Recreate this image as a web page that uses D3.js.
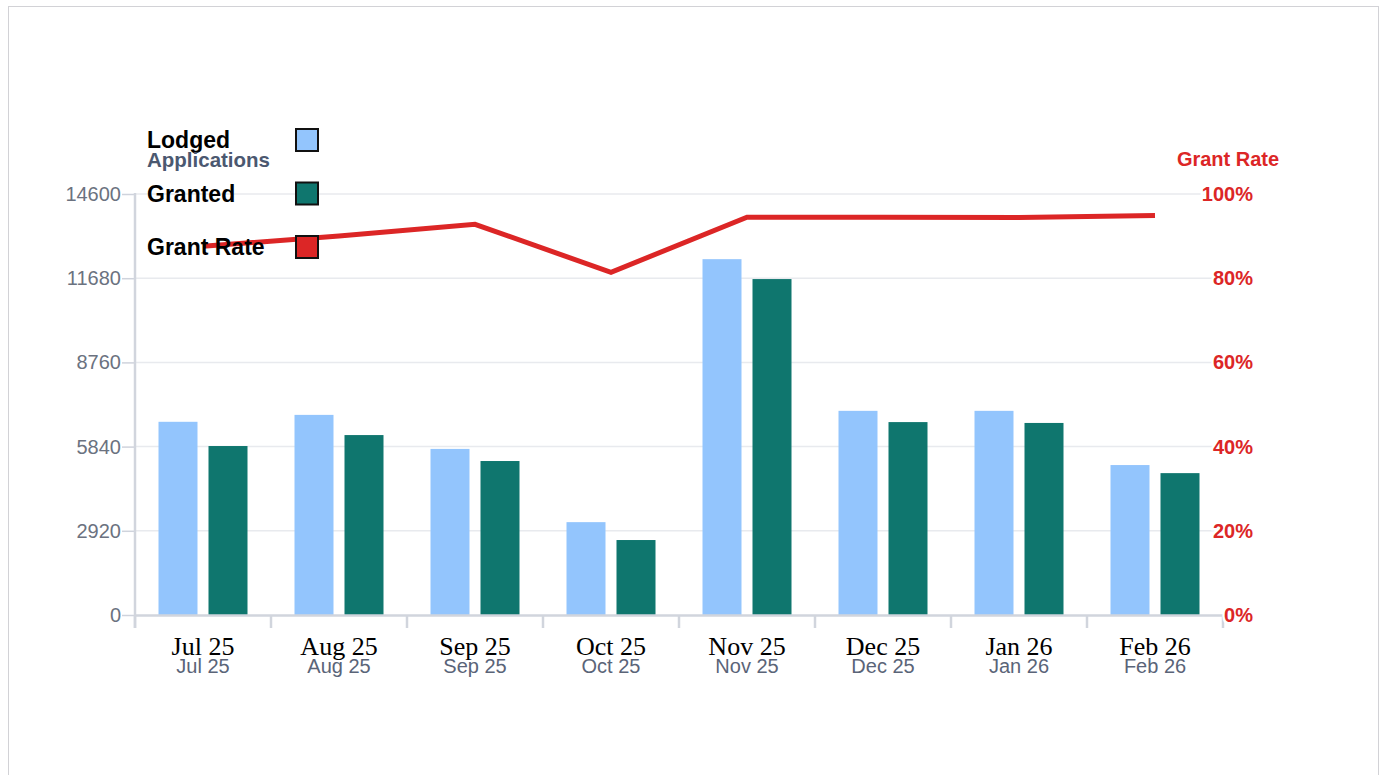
<!DOCTYPE html>
<html>
<head>
<meta charset="utf-8">
<script src="https://cdn.jsdelivr.net/npm/d3@7"></script>
<style>
  body { margin: 0; background: #fff; }
  .card { position: absolute; left: 8px; top: 6px; width: 1369px; height: 800px; border: 1px solid #d2d2d6; }
  svg { position: absolute; left: 0; top: 0; }
</style>
</head>
<body>
<div class="card"></div>
<svg id="chart"></svg>
<script>
// data
var months = ["Jul 25", "Aug 25", "Sep 25", "Oct 25", "Nov 25", "Dec 25", "Jan 26", "Feb 26"];
var lodged = [6700, 6940, 5760, 3220, 12340, 7080, 7080, 5200];
var granted = [5860, 6240, 5340, 2600, 11650, 6690, 6660, 4920];
var grantRate = [87.6, 90.0, 92.8, 81.4, 94.5, 94.5, 94.4, 94.9];
var leftTicks = [0, 2920, 5840, 8760, 11680, 14600];
var rightTicks = [0, 20, 40, 60, 80, 100];
var keys = ["Lodged", "Granted"];
var colors = { Lodged: "#93c5fd", Granted: "#0f766e", Rate: "#dc2626" };

function chart(idname, {
  width = 1387,
  height = 775,
  left = 135,   // x of the left axis
  right = 1223, // end of the x axis
  top = 194,    // y of the top tick
  bottom = 615  // y of the zero line
} = {}) {
  var svg = d3.select(`#${idname}`)
    .attr("width", width)
    .attr("height", height)
    .style("font-family", "Arial, 'Liberation Sans', sans-serif");

  // scales
  var x0 = d3.scaleBand().domain(months).range([left, right]);
  var x1 = d3.scaleBand().domain(keys).range([0, x0.bandwidth()])
    .paddingInner(0.22).paddingOuter(0.47);
  var y = d3.scaleLinear().domain([0, 14600]).range([bottom, top]);
  var yR = d3.scaleLinear().domain([0, 100]).range([bottom, top]);

  // gridlines
  svg.append("g")
    .selectAll("line")
    .data(leftTicks.slice(1))
    .enter()
    .append("line")
    .attr("x1", left)
    .attr("x2", 1253)
    .attr("y1", (d) => y(d))
    .attr("y2", (d) => y(d))
    .attr("stroke", "#e8eaee")
    .attr("stroke-width", 1.5);

  // bars
  var groups = svg.append("g")
    .selectAll("g")
    .data(months)
    .enter()
    .append("g")
    .attr("transform", (d) => `translate(${x0(d)},0)`);
  groups.selectAll("rect")
    .data((d, i) => [{ k: "Lodged", v: lodged[i] }, { k: "Granted", v: granted[i] }])
    .enter()
    .append("rect")
    .attr("x", (d) => x1(d.k))
    .attr("width", x1.bandwidth())
    .attr("y", (d) => y(d.v))
    .attr("height", (d) => y(0) - y(d.v))
    .attr("fill", (d) => colors[d.k]);

  // left axis
  var yAxis = d3.axisLeft(y).tickValues(leftTicks).tickFormat(d3.format("d")).tickSize(13).tickPadding(1);
  svg.append("g")
    .attr("transform", `translate(${left},0)`)
    .call(yAxis)
    .call((g) => g.select(".domain").remove())
    .call((g) => g.selectAll(".tick line").attr("stroke", "#cfd3dc").attr("stroke-width", 1.5))
    .call((g) => g.selectAll(".tick text")
      .attr("fill", "#6b7280")
      .style("font-size", "20px")
      .style("font-family", "Arial, 'Liberation Sans', sans-serif"));
  svg.append("line")
    .attr("x1", left).attr("x2", left)
    .attr("y1", top - 1).attr("y2", bottom + 13)
    .attr("stroke", "#d1d5dd").attr("stroke-width", 2.5);

  // x axis
  svg.append("line")
    .attr("x1", left).attr("x2", right)
    .attr("y1", bottom + 0.5).attr("y2", bottom + 0.5)
    .attr("stroke", "#d1d5dd").attr("stroke-width", 2.5);
  svg.append("g")
    .selectAll("line")
    .data(months.concat(["end"]))
    .enter()
    .append("line")
    .attr("x1", (d, i) => i < months.length ? x0(d) : right)
    .attr("x2", (d, i) => i < months.length ? x0(d) : right)
    .attr("y1", bottom)
    .attr("y2", bottom + 13)
    .attr("stroke", "#d1d5dd")
    .attr("stroke-width", 2.5);
  var xl = svg.append("g")
    .selectAll("g")
    .data(months)
    .enter()
    .append("g")
    .attr("transform", (d) => `translate(${x0(d) + x0.bandwidth() / 2},0)`);
  xl.append("text")
    .attr("y", 655)
    .attr("text-anchor", "middle")
    .style("font-family", "'Liberation Serif', 'Times New Roman', serif")
    .style("font-size", "26px")
    .attr("fill", "#000")
    .text((d) => d);
  xl.append("text")
    .attr("y", 673)
    .attr("text-anchor", "middle")
    .style("font-size", "20px")
    .attr("fill", "#5a6478")
    .text((d) => d);

  // right axis labels
  svg.append("g")
    .selectAll("text")
    .data(rightTicks)
    .enter()
    .append("text")
    .attr("x", 1253)
    .attr("y", (d) => yR(d) + 7)
    .attr("text-anchor", "end")
    .style("font-size", "20px")
    .style("font-weight", "bold")
    .attr("fill", colors.Rate)
    .attr("stroke", "#fff")
    .attr("stroke-width", 5)
    .attr("paint-order", "stroke")
    .text((d) => d + "%");
  svg.append("text")
    .attr("x", 1228)
    .attr("y", 166)
    .attr("text-anchor", "middle")
    .style("font-size", "20px")
    .style("font-weight", "bold")
    .attr("fill", colors.Rate)
    .text("Grant Rate");

  // grant rate line
  var line = d3.line()
    .x((d, i) => x0(months[i]) + x0.bandwidth() / 2)
    .y((d) => yR(d));
  svg.append("path")
    .datum(grantRate)
    .attr("d", line)
    .attr("fill", "none")
    .attr("stroke", colors.Rate)
    .attr("stroke-width", 5);

  // legend
  var legend = [
    { label: "Lodged", sub: "Applications", color: colors.Lodged },
    { label: "Granted", color: colors.Granted },
    { label: "Grant Rate", color: colors.Rate }
  ];
  var lg = svg.append("g")
    .selectAll("g")
    .data(legend)
    .enter()
    .append("g")
    .attr("transform", (d, i) => `translate(147,${148 + i * 53.5})`);
  lg.append("text")
    .attr("y", 0)
    .style("font-size", "23px")
    .style("font-weight", "bold")
    .attr("fill", "#000")
    .text((d) => d.label);
  lg.filter((d) => d.sub)
    .append("text")
    .attr("y", 19)
    .style("font-size", "20.5px")
    .style("font-weight", "bold")
    .attr("fill", "#4b5870")
    .text((d) => d.sub);
  lg.append("rect")
    .attr("x", 149)
    .attr("y", -19)
    .attr("width", 22)
    .attr("height", 22)
    .attr("fill", (d) => d.color)
    .attr("stroke", "#111")
    .attr("stroke-width", 2);

  return svg.node();
}

chart("chart");
</script>
</body>
</html>
